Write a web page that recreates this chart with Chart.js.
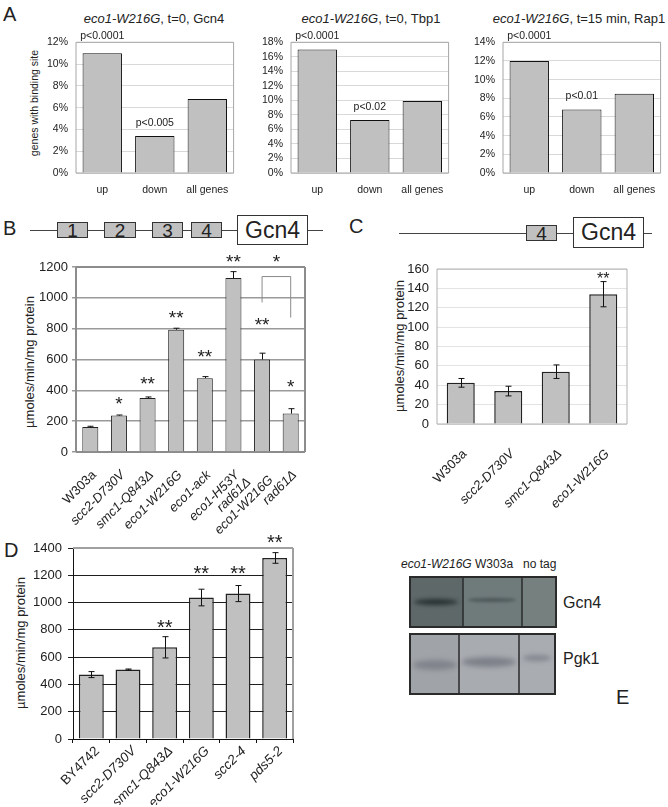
<!DOCTYPE html>
<html>
<head>
<meta charset="utf-8">
<script src="https://cdn.jsdelivr.net/npm/chart.js@4.4.0/dist/chart.umd.min.js"></script>
<style>
body { margin: 0; background: #fff; font-family: "Liberation Sans", Arial, sans-serif; color: #222; }
#fig { position: relative; width: 668px; height: 807px; overflow: hidden; }
canvas { position: absolute; }
.t { position: absolute; line-height: 1; white-space: nowrap; }
.c { text-align: center; }
.rot { position: absolute; line-height: 1; white-space: nowrap; color: #222; transform: translate(-50%, -50%) rotate(-90deg); }
.ln { position: absolute; height: 1px; background: #444; }
.box { position: absolute; box-sizing: border-box; border: 1px solid #333; background: #c0c0c0;
       display: flex; align-items: center; justify-content: center; line-height: 1; }
.gcn { background: #fff; font-size: 23px; }
</style>
</head>
<body>
<div id="fig">
  <!-- panel A -->
  <div class="t" style="left:3px;top:4px;font-size:20px">A</div>
  <div class="t c" style="left:54px;width:200px;top:11.5px;font-size:13px"><i>eco1-W216G</i>, t=0, Gcn4</div>
  <div class="t c" style="left:271px;width:200px;top:11.5px;font-size:13px"><i>eco1-W216G</i>, t=0, Tbp1</div>
  <div class="t c" style="left:479px;width:200px;top:11.5px;font-size:13px"><i>eco1-W216G</i>, t=15 min, Rap1</div>
  <div class="rot" style="left:34px;top:103px;font-size:10.5px">genes with binding site</div>
  <canvas id="a1" width="200" height="180" style="left:40px;top:28px"></canvas>
  <canvas id="a2" width="200" height="180" style="left:255px;top:28px"></canvas>
  <canvas id="a3" width="200" height="180" style="left:467px;top:28px"></canvas>

  <!-- panel B -->
  <div class="t" style="left:3px;top:218px;font-size:20px">B</div>
  <div class="ln" style="left:30px;top:230px;width:293px"></div>
  <div class="box" style="left:57px;top:222px;width:31px;height:16px;font-size:19px">1</div>
  <div class="box" style="left:104px;top:222px;width:32px;height:16px;font-size:19px">2</div>
  <div class="box" style="left:152px;top:222px;width:31px;height:16px;font-size:19px">3</div>
  <div class="box" style="left:191px;top:222px;width:31px;height:16px;font-size:19px">4</div>
  <div class="box gcn" style="left:237px;top:215px;width:71px;height:30px">Gcn4</div>
  <div class="rot" style="left:29px;top:362px;font-size:13px">µmoles/min/mg protein</div>
  <canvas id="b" width="275" height="300" style="left:36px;top:245px"></canvas>

  <!-- panel C -->
  <div class="t" style="left:349px;top:215.5px;font-size:20px">C</div>
  <div class="ln" style="left:399px;top:233px;width:253px"></div>
  <div class="box" style="left:526px;top:225px;width:31px;height:16px;font-size:19px">4</div>
  <div class="box gcn" style="left:573px;top:217px;width:71px;height:31px">Gcn4</div>
  <div class="rot" style="left:399px;top:346px;font-size:13px">µmoles/min/mg protein</div>
  <canvas id="c" width="235" height="260" style="left:400px;top:250px"></canvas>

  <!-- panel D -->
  <div class="t" style="left:4px;top:539.5px;font-size:20px">D</div>
  <div class="rot" style="left:20px;top:643px;font-size:13px">µmoles/min/mg protein</div>
  <canvas id="d" width="275" height="280" style="left:25px;top:525px"></canvas>

  <!-- panel E -->
  <div class="t" style="left:616px;top:687px;font-size:20px">E</div>
  <div class="t" style="left:401px;top:558px;font-size:12px"><i>eco1-W216G</i> W303a</div>
  <div class="t" style="left:523px;top:558px;font-size:12px">no tag</div>
  <div class="t" style="left:563px;top:595px;font-size:16px">Gcn4</div>
  <div class="t" style="left:563px;top:651px;font-size:16px">Pgk1</div>
  <canvas id="blot" width="170" height="135" style="left:400px;top:570px"></canvas>
</div>

<script>
// ---- data ----
const groupsA = ['up', 'down', 'all genes'];
const gcn4Sites = [11, 3.4, 6.8];
const tbp1Sites = [17, 7.3, 9.9];
const rap1Sites = [12, 6.8, 8.5];
const pGcn4 = ['p<0.0001', 'p<0.005', ''];
const pTbp1 = ['p<0.0001', 'p<0.02', ''];
const pRap1 = ['p<0.0001', 'p<0.01', ''];

const strainsB = ['W303a', 'scc2-D730V', 'smc1-Q843Δ', 'eco1-W216G', 'eco1-ack', 'eco1-H53Y', ['rad61Δ', 'eco1-W216G'], 'rad61Δ'];
const activityB = [162, 236, 350, 793, 479, 1128, 600, 249];
const errB = [5, 4, 7, 10, 10, 42, 41, 32];
const starsB = ['', '*', '**', '**', '**', '**', '**', '*'];
const starAtB = [0, 341, 471, 898, 647, 1261, 853, 451];
const bracketB = { from: 6, to: 7, top: 1138, left: 970, right: 872, star: '*', starAt: 1261 };

const strainsC = ['W303a', 'scc2-D730V', 'smc1-Q843Δ', 'eco1-W216G'];
const activityC = [42.5, 34, 54, 134];
const errC = [4.5, 5, 7, 13];
const starsC = ['', '', '', '**'];
const starAtC = [0, 0, 0, 154];

const strainsD = ['BY4742', 'scc2-D730V', 'smc1-Q843Δ', 'eco1-W216G', 'scc2-4', 'pds5-2'];
const activityD = [472, 509, 672, 1037, 1066, 1327];
const errD = [22, 4, 78, 61, 59, 39];
const starsD = ['', '', '**', '**', '**', '**'];
const starAtD = [0, 0, 850, 1251, 1251, 1477];

const FONT = '"Liberation Sans", Arial, sans-serif';
Chart.defaults.font.family = FONT;
Chart.defaults.color = '#222';

// frame, error bars, stars, p-values, bracket, slanted strain names
const marks = {
  id: 'marks',
  beforeDatasetsDraw(chart, args, o) {
    if (!o.frame) return;
    const a = chart.chartArea, ctx = chart.ctx, s = o.frame.sides || 'trbl';
    ctx.save();
    ctx.strokeStyle = o.frame.color;
    ctx.lineWidth = o.frame.width;
    ctx.beginPath();
    if (s.includes('t')) { ctx.moveTo(a.left, a.top); ctx.lineTo(a.right, a.top); }
    if (s.includes('r')) { ctx.moveTo(a.right, a.top); ctx.lineTo(a.right, a.bottom); }
    if (s.includes('b')) { ctx.moveTo(a.left, a.bottom); ctx.lineTo(a.right, a.bottom); }
    if (s.includes('l')) { ctx.moveTo(a.left, a.top); ctx.lineTo(a.left, a.bottom); }
    ctx.stroke();
    ctx.restore();
  },
  afterDatasetsDraw(chart, args, o) {
    const ctx = chart.ctx, y = chart.scales.y, a = chart.chartArea;
    const bars = chart.getDatasetMeta(0).data;
    const vals = chart.data.datasets[0].data;
    ctx.save();
    if (o.err) {
      ctx.strokeStyle = '#111';
      ctx.lineWidth = 1;
      bars.forEach((b, i) => {
        const hi = y.getPixelForValue(vals[i] + o.err[i]);
        const lo = y.getPixelForValue(o.plusOnly ? vals[i] : vals[i] - o.err[i]);
        const x = Math.round(b.x) + 0.5;
        ctx.beginPath();
        ctx.moveTo(x, lo); ctx.lineTo(x, hi);
        ctx.moveTo(x - o.cap, hi); ctx.lineTo(x + o.cap, hi);
        if (!o.plusOnly) { ctx.moveTo(x - o.cap, lo); ctx.lineTo(x + o.cap, lo); }
        ctx.stroke();
      });
    }
    ctx.fillStyle = '#222';
    ctx.textAlign = 'center';
    if (o.stars) {
      ctx.font = o.starSize + 'px ' + FONT;
      ctx.textBaseline = 'alphabetic';
      bars.forEach((b, i) => {
        if (o.stars[i]) ctx.fillText(o.stars[i], b.x, y.getPixelForValue(o.starAt[i]) + 0.57 * o.starSize);
      });
    }
    if (o.bracket) {
      const br = o.bracket, x1 = bars[br.from].x, x2 = bars[br.to].x, top = y.getPixelForValue(br.top);
      ctx.strokeStyle = '#8a8a8a';
      ctx.lineWidth = 1;
      ctx.beginPath();
      ctx.moveTo(x1, y.getPixelForValue(br.left));
      ctx.lineTo(x1, top);
      ctx.lineTo(x2, top);
      ctx.lineTo(x2, y.getPixelForValue(br.right));
      ctx.stroke();
      ctx.fillText(br.star, (x1 + x2) / 2, y.getPixelForValue(br.starAt) + 0.57 * o.starSize);
    }
    if (o.pvals) {
      ctx.font = '10.5px ' + FONT;
      ctx.textBaseline = 'middle';
      bars.forEach((b, i) => {
        if (!o.pvals[i]) return;
        const py = b.y - 13 < a.top + 8 ? a.top - 6 : b.y - 13;
        ctx.fillText(o.pvals[i], b.x, py);
      });
    }
    if (o.xLabels) {
      const L = o.xLabels, xs = chart.scales.x, lh = L.size * 1.1;
      chart.data.labels.forEach((lab, i) => {
        const lines = [].concat(lab);
        ctx.save();
        ctx.translate(xs.getPixelForTick(i) + L.dx, a.bottom + L.dy);
        ctx.rotate(-Math.PI / 4);
        ctx.font = (i === 0 ? '' : 'italic ') + L.size + 'px ' + FONT;
        ctx.textBaseline = 'middle';
        ctx.textAlign = 'center';
        const wmax = Math.max(...lines.map(s => ctx.measureText(s).width));
        lines.forEach((s, j) => {
          ctx.fillText(s, -wmax / 2, (j - (lines.length - 1) / 2) * lh);
        });
        ctx.restore();
      });
    }
    ctx.restore();
  }
};

function makeBar(id, labels, values, o) {
  const slanted = !!o.marks.xLabels;
  return new Chart(document.getElementById(id), {
    type: 'bar',
    data: {
      labels: labels,
      datasets: [{
        data: values,
        backgroundColor: '#c0c0c0',
        borderColor: o.edge || '#111',
        borderWidth: o.edgeW || 1,
        categoryPercentage: 1,
        barPercentage: o.barPct
      }]
    },
    options: {
      responsive: false,
      animation: false,
      events: [],
      layout: { padding: o.pad },
      plugins: { legend: { display: false }, tooltip: { enabled: false }, marks: o.marks },
      scales: {
        x: {
          grid: o.xGrid || { display: false, drawTicks: false },
          border: o.xBorder || { display: false },
          ticks: { display: !slanted, autoSkip: false, color: '#222', padding: 11,
                   maxRotation: 0, font: { size: 10.5 } },
          afterFit: s => { s.height = o.xH; }
        },
        y: {
          min: 0, max: o.max,
          grid: o.yGrid,
          border: o.yBorder || { display: false },
          ticks: { stepSize: o.step, autoSkip: false, color: '#222', padding: o.yPad,
                   font: { size: o.ySize }, callback: o.fmt || (v => v) },
          afterFit: s => { s.width = o.yW; }
        }
      }
    },
    plugins: [marks]
  });
}

// panel A
const optA = (max, pvals) => ({
  max: max, step: 2, fmt: v => v + '%', ySize: 10.5, yPad: 8, yW: 36, xH: 35,
  barPct: 0.75, pad: { top: 14, right: 4 },
  yGrid: { color: '#d9d9d9', drawTicks: false },
  marks: { frame: { color: '#a6a6a6', width: 1 }, pvals: pvals }
});
makeBar('a1', groupsA, gcn4Sites, optA(12, pGcn4));
makeBar('a2', groupsA, tbp1Sites, optA(18, pTbp1));
makeBar('a3', groupsA, rap1Sites, optA(14, pRap1));

// panel B
makeBar('b', strainsB, activityB, {
  max: 1200, step: 200, ySize: 13, yPad: 4, yW: 40, xH: 93,
  barPct: 0.56, pad: { top: 22, right: 6 }, edge: '#222',
  yGrid: { color: '#9a9a9a', lineWidth: 1.5, drawTicks: true, tickLength: 4 },
  marks: { frame: { color: '#8c8c8c', width: 2 }, err: errB, plusOnly: true, cap: 3,
           stars: starsB, starAt: starAtB, starSize: 19, bracket: bracketB,
           xLabels: { size: 13, dx: 4, dy: 21 } }
});

// panel C
makeBar('c', strainsC, activityC, {
  max: 160, step: 20, ySize: 13, yPad: 8, yW: 37, xH: 86,
  barPct: 0.59, pad: { top: 19, right: 8 }, edge: '#222', edgeW: 1.5,
  yGrid: { color: '#e3e3e3', drawTicks: false },
  marks: { frame: { color: '#b0b0b0', width: 1 }, err: errC, cap: 3,
           stars: starsC, starAt: starAtC, starSize: 16,
           xLabels: { size: 13, dx: 4, dy: 28 } }
});

// panel D
makeBar('d', strainsD, activityD, {
  max: 1400, step: 200, ySize: 13, yPad: 6, yW: 48, xH: 66,
  barPct: 0.68, pad: { top: 23, right: 7 }, edge: '#222', edgeW: 1.5,
  xGrid: { display: true, drawOnChartArea: false, drawTicks: true, tickLength: 4, offset: true, color: '#111' },
  yGrid: { color: '#1e1e1e', drawTicks: true, tickLength: 5 },
  yBorder: { display: true, color: '#111', width: 1 },
  xBorder: { display: true, color: '#111', width: 1 },
  marks: { frame: { color: '#a0a0a0', width: 2, sides: 'tr' }, err: errD, cap: 3,
           stars: starsD, starAt: starAtD, starSize: 20,
           xLabels: { size: 13.5, dx: 6, dy: 10 } }
});

// panel E: western blot picture
(function drawBlot() {
  const ctx = document.getElementById('blot').getContext('2d');
  function band(x, y, w, h, color, blur) {
    ctx.save();
    ctx.filter = 'blur(' + blur + 'px)';
    ctx.fillStyle = color;
    ctx.beginPath();
    ctx.ellipse(x + w / 2, y, w / 2, h / 2, 0, 0, Math.PI * 2);
    ctx.fill();
    ctx.restore();
  }
  // Gcn4 blot
  ctx.fillStyle = '#5e6869'; ctx.fillRect(10, 7, 53, 50);
  ctx.fillStyle = '#6f7a7b'; ctx.fillRect(63, 7, 59, 50);
  ctx.fillStyle = '#75807f'; ctx.fillRect(122, 7, 34, 50);
  band(14, 32, 44, 6, '#263030', 2);
  band(68, 30, 48, 4, '#4c5758', 1.5);
  // Pgk1 blot
  ctx.fillStyle = '#a0a3a8'; ctx.fillRect(10, 64, 49, 60);
  ctx.fillStyle = '#a8abb0'; ctx.fillRect(59, 64, 60, 60);
  ctx.fillStyle = '#a9acb1'; ctx.fillRect(119, 64, 36, 60);
  band(13, 95, 44, 10, '#80838b', 2.5);
  band(62, 92, 54, 10, '#7d8088', 2.5);
  band(123, 88, 28, 7, '#888b92', 2);
  ctx.strokeStyle = '#2b2b2b';
  ctx.lineWidth = 2;
  ctx.strokeRect(10, 7, 146, 50);
  ctx.strokeRect(10, 64, 145, 60);
  ctx.lineWidth = 1.5;
  ctx.beginPath();
  ctx.moveTo(63, 7); ctx.lineTo(63, 57);
  ctx.moveTo(122, 7); ctx.lineTo(122, 57);
  ctx.moveTo(59, 64); ctx.lineTo(59, 124);
  ctx.moveTo(119, 64); ctx.lineTo(119, 124);
  ctx.stroke();
})();
</script>
</body>
</html>
